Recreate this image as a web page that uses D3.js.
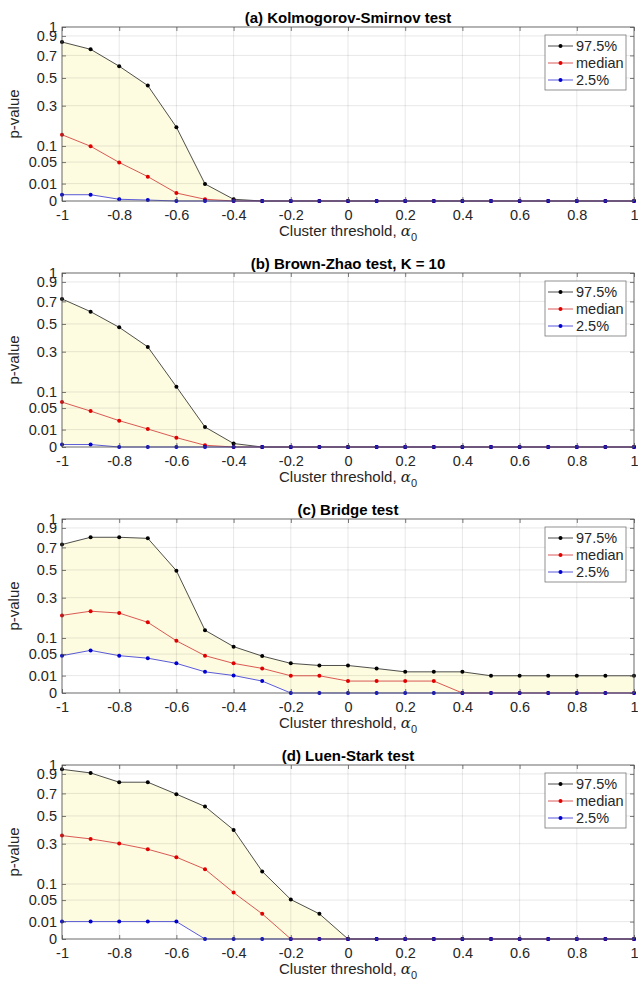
<!DOCTYPE html>
<html><head><meta charset="utf-8">
<script src="https://cdn.jsdelivr.net/npm/d3@7"></script>
<style>
body{margin:0;background:#fff;}
svg{display:block;font-family:"Liberation Sans",Arial,Helvetica,sans-serif;}
</style>
</head><body><svg id="chart" width="638" height="984"></svg>
<script>
// ---- data ----
const xValues = [-1,-0.9,-0.8,-0.7,-0.6,-0.5,-0.4,-0.3,-0.2,-0.1,0,0.1,0.2,0.3,0.4,0.5,0.6,0.7,0.8,0.9,1];
const xTickValues = [-1,-0.8,-0.6,-0.4,-0.2,0,0.2,0.4,0.6,0.8,1];
const xTickLabels = ["-1","-0.8","-0.6","-0.4","-0.2","0","0.2","0.4","0.6","0.8","1"];
const yTickValues = [0,0.01,0.05,0.1,0.3,0.5,0.7,0.9,1];
const yTickLabels = ["0","0.01","0.05","0.1","0.3","0.5","0.7","0.9","1"];
const seriesNames = ["97.5%","median","2.5%"];
const titles = ["(a) Kolmogorov-Smirnov test","(b) Brown-Zhao test, K = 10","(c) Bridge test","(d) Luen-Stark test"];

const ksUpper  = [0.835,0.76,0.60,0.44,0.18,0.0096,0.0001,0,0,0,0,0,0,0,0,0,0,0,0,0,0];
const ksMedian = [0.145,0.099,0.049,0.0196,0.0021,0.0001,0,0,0,0,0,0,0,0,0,0,0,0,0,0,0];
const ksLower  = [0.0013,0.0013,0.0001,0.00003,0,0,0,0,0,0,0,0,0,0,0,0,0,0,0,0,0];

const bzUpper  = [0.724,0.605,0.473,0.331,0.12,0.0132,0.0004,0,0,0,0,0,0,0,0,0,0,0,0,0,0];
const bzMedian = [0.0666,0.0426,0.0229,0.0107,0.0029,0.0001,0,0,0,0,0,0,0,0,0,0,0,0,0,0,0];
const bzLower  = [0.0002,0.0002,0,0,0,0,0,0,0,0,0,0,0,0,0,0,0,0,0,0,0];

const brUpper  = [0.728,0.801,0.801,0.79,0.494,0.13,0.071,0.045,0.029,0.025,0.025,0.0198,0.0148,0.0148,0.0148,0.0098,0.0098,0.0098,0.0098,0.0098,0.0098];
const brMedian = [0.199,0.221,0.211,0.165,0.090,0.046,0.029,0.020,0.0098,0.0098,0.0047,0.0047,0.0047,0.0047,0,0,0,0,0,0,0];
const brLower  = [0.046,0.060,0.046,0.040,0.029,0.0148,0.0101,0.0047,0,0,0,0,0,0,0,0,0,0,0,0,0];

const lsUpper  = [0.951,0.911,0.812,0.812,0.693,0.580,0.393,0.151,0.0514,0.0209,0,0,0,0,0,0,0,0,0,0,0];
const lsMedian = [0.353,0.331,0.301,0.266,0.221,0.161,0.0711,0.0209,0,0,0,0,0,0,0,0,0,0,0,0,0];
const lsLower  = [0.01,0.01,0.01,0.01,0.01,0,0,0,0,0,0,0,0,0,0,0,0,0,0,0,0];

const panels = [
  {title: titles[0], series: [ksUpper, ksMedian, ksLower]},
  {title: titles[1], series: [bzUpper, bzMedian, bzLower]},
  {title: titles[2], series: [brUpper, brMedian, brLower]},
  {title: titles[3], series: [lsUpper, lsMedian, lsLower]}
];
const colors = ["#000000","#e00000","#0000d0"];
const lineColors = ["#222222","#d03030","#3030d0"];

// ---- drawing ----
const svg = d3.select("#chart");
const L = 62, R = 634, H = 174;
const x = d3.scaleLinear().domain([-1,1]).range([L,R]);

panels.forEach((p,i)=>{
  const top = 27 + i*246, bottom = top + H;
  const y = d3.scaleSqrt().domain([0,1]).range([bottom, top]);
  const g = svg.append("g");

  // fill between upper and lower
  const area = d3.area()
    .x((d,j)=>x(xValues[j]))
    .y0((d,j)=>y(p.series[2][j]))
    .y1(d=>y(d));
  g.append("path").datum(p.series[0]).attr("d", area).attr("fill","#fdfbe0");

  // grid
  g.append("g").selectAll("line").data(xTickValues).join("line")
    .attr("x1",d=>x(d)).attr("x2",d=>x(d)).attr("y1",top).attr("y2",bottom)
    .attr("stroke","#000").attr("stroke-opacity",0.12).attr("stroke-width",0.8);
  g.append("g").selectAll("line").data(yTickValues).join("line")
    .attr("x1",L).attr("x2",R).attr("y1",d=>y(d)).attr("y2",d=>y(d))
    .attr("stroke","#000").attr("stroke-opacity",0.12).attr("stroke-width",0.8);

  // series
  const line = d3.line().x((d,j)=>x(xValues[j])).y(d=>y(d));
  p.series.forEach((s,k)=>{
    g.append("path").datum(s).attr("d",line).attr("fill","none")
      .attr("stroke",lineColors[k]).attr("stroke-width",0.8);
    g.append("g").selectAll("circle").data(s).join("circle")
      .attr("cx",(d,j)=>x(xValues[j])).attr("cy",d=>y(d)).attr("r",2)
      .attr("fill",colors[k]);
  });

  // axes
  const fmtX = d=>xTickLabels[xTickValues.indexOf(d)];
  const fmtY = d=>yTickLabels[yTickValues.indexOf(d)];
  const ax = g.append("g").attr("transform",`translate(0,${bottom})`)
    .call(d3.axisBottom(x).tickValues(xTickValues).tickFormat(fmtX).tickSize(-4).tickPadding(9));
  const ay = g.append("g").attr("transform",`translate(${L},0)`)
    .call(d3.axisLeft(y).tickValues(yTickValues).tickFormat(fmtY).tickSize(-4).tickPadding(5));
  const at = g.append("g").attr("transform",`translate(0,${top})`)
    .call(d3.axisTop(x).tickValues(xTickValues).tickFormat("").tickSize(-4));
  const ar = g.append("g").attr("transform",`translate(${R},0)`)
    .call(d3.axisRight(y).tickValues(yTickValues).tickFormat("").tickSize(-4));
  [ax,ay,at,ar].forEach(a=>{
    a.select(".domain").remove();
    a.selectAll("line").attr("stroke","#444").attr("stroke-width",0.7);
    a.selectAll("text").attr("font-size","14.5px").attr("fill","#262626")
      .attr("font-family","'Liberation Sans',Arial,Helvetica,sans-serif");
  });

  // box
  g.append("rect").attr("x",L).attr("y",top).attr("width",R-L).attr("height",H)
    .attr("fill","none").attr("stroke","#555").attr("stroke-width",0.8);

  // title
  g.append("text").attr("x",(L+R)/2).attr("y",top-4).attr("text-anchor","middle")
    .attr("font-size","15px").attr("font-weight","bold").attr("fill","#000").text(p.title);

  // x label
  const xl = g.append("text").attr("x",(L+R)/2).attr("y",bottom+35).attr("text-anchor","middle")
    .attr("font-size","15px").attr("fill","#262626");
  xl.append("tspan").text("Cluster threshold, ");
  xl.append("tspan").attr("font-family","'DejaVu Serif',serif").attr("font-style","italic").text("α");
  xl.append("tspan").attr("font-size","11px").attr("dy",5).text("0");

  // y label
  g.append("text").attr("transform",`translate(19,${(top+bottom)/2}) rotate(-90)`)
    .attr("text-anchor","middle").attr("font-size","15px").attr("fill","#262626").text("p-value");

  // legend
  const lg = g.append("g");
  lg.append("rect").attr("x",545).attr("y",top+8).attr("width",81).attr("height",55)
    .attr("fill","#fff").attr("stroke","#777").attr("stroke-width",0.8);
  seriesNames.forEach((n,k)=>{
    const ry = top + 19 + k*17;
    lg.append("line").attr("x1",548).attr("x2",573).attr("y1",ry).attr("y2",ry)
      .attr("stroke",lineColors[k]).attr("stroke-width",0.8);
    lg.append("circle").attr("cx",560.5).attr("cy",ry).attr("r",2).attr("fill",colors[k]);
    lg.append("text").attr("x",576).attr("y",ry+5).attr("font-size","14.5px").attr("fill","#262626").text(n);
  });
});
</script>
</body></html>
